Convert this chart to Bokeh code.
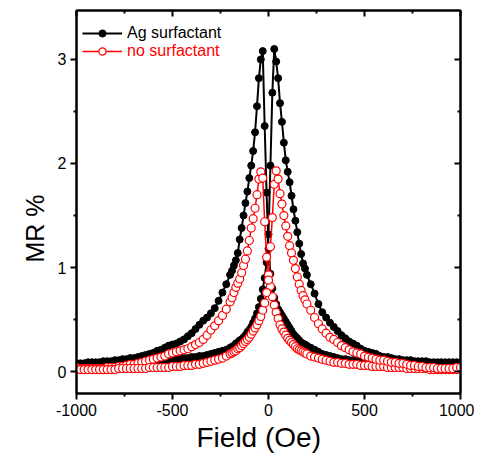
from bokeh.plotting import figure
from bokeh.models import (Range1d, FixedTicker, LinearAxis, Legend, LegendItem,
                          CustomJSTickFormatter, Title)
from bokeh.embed import file_html
from bokeh.resources import INLINE

# ---------------- data ----------------
FIELD = [
    -1000, -980, -960, -940, -920, -900, -880, -860, -840, -820,
    -800, -780, -760, -740, -720, -700, -680, -660, -640, -620,
    -600, -580, -560, -540, -520, -500, -480, -460, -440, -420,
    -400, -380, -360, -340, -320, -300, -280, -260, -240, -220, -200,
    -190, -180, -170, -160, -150, -140, -130, -120, -110, -100,
    -90, -80, -70, -60, -50, -40, -30, -20, -10, 0,
    10, 20, 30, 40, 50, 60, 70, 80, 90, 100,
    110, 120, 130, 140, 150, 160, 170, 180, 190,
    200, 220, 240, 260, 280, 300, 320, 340, 360, 380,
    400, 420, 440, 460, 480, 500, 520, 540, 560, 580,
    600, 620, 640, 660, 680, 700, 720, 740, 760, 780,
    800, 820, 840, 860, 880, 900, 920, 940, 960, 980, 1000,
]

# Ag surfactant, branch with peak at negative field
AG_DOWN = [
    0.08, 0.08, 0.08, 0.09, 0.09, 0.09, 0.09, 0.10, 0.10, 0.10,
    0.11, 0.11, 0.12, 0.12, 0.13, 0.13, 0.14, 0.15, 0.16, 0.17,
    0.18, 0.20, 0.21, 0.23, 0.25, 0.26, 0.27, 0.29, 0.31, 0.34,
    0.37, 0.41, 0.45, 0.49, 0.52, 0.56, 0.61, 0.68, 0.76, 0.84, 0.93,
    0.97, 1.02, 1.07, 1.14, 1.27, 1.38, 1.50, 1.62, 1.73, 1.86,
    1.98, 2.12, 2.30, 2.55, 2.82, 3.00, 3.08, 2.36, 1.72, 1.18,
    0.94, 0.80, 0.71, 0.65, 0.60, 0.57, 0.54, 0.51, 0.48, 0.45,
    0.42, 0.39, 0.36, 0.34, 0.32, 0.30, 0.28, 0.27, 0.26,
    0.25, 0.23, 0.21, 0.19, 0.17, 0.16, 0.15, 0.14, 0.13, 0.12,
    0.12, 0.11, 0.11, 0.10, 0.10, 0.10, 0.09, 0.09, 0.09, 0.09,
    0.09, 0.08, 0.08, 0.08, 0.08, 0.08, 0.08, 0.07, 0.07, 0.07,
    0.07, 0.07, 0.07, 0.06, 0.06, 0.06, 0.06, 0.06, 0.06, 0.06, 0.06,
]

# Ag surfactant, branch with peak at positive field
AG_UP = [
    0.06, 0.06, 0.06, 0.06, 0.06, 0.06, 0.07, 0.07, 0.07, 0.07,
    0.07, 0.07, 0.08, 0.08, 0.08, 0.08, 0.09, 0.09, 0.09, 0.09,
    0.10, 0.10, 0.10, 0.11, 0.11, 0.11, 0.12, 0.12, 0.13, 0.13,
    0.14, 0.14, 0.15, 0.15, 0.16, 0.17, 0.18, 0.19, 0.20, 0.21, 0.23,
    0.24, 0.25, 0.27, 0.28, 0.30, 0.31, 0.33, 0.35, 0.38, 0.40,
    0.43, 0.47, 0.51, 0.56, 0.62, 0.70, 0.79, 0.90, 1.05, 1.32,
    1.98, 2.68, 3.10, 2.98, 2.82, 2.58, 2.40, 2.20, 2.03, 1.92,
    1.82, 1.69, 1.56, 1.45, 1.34, 1.23, 1.13, 1.04, 0.99,
    0.93, 0.84, 0.75, 0.65, 0.57, 0.52, 0.47, 0.43, 0.39, 0.35,
    0.32, 0.29, 0.27, 0.25, 0.22, 0.20, 0.19, 0.18, 0.17, 0.15,
    0.14, 0.14, 0.13, 0.12, 0.12, 0.11, 0.11, 0.11, 0.10, 0.10,
    0.10, 0.10, 0.09, 0.09, 0.09, 0.09, 0.09, 0.09, 0.09, 0.09, 0.09,
]

# no surfactant, branch with peak at negative field
NO_DOWN = [
    0.04, 0.03, 0.03, 0.03, 0.03, 0.03, 0.03, 0.03, 0.04, 0.04,
    0.04, 0.05, 0.05, 0.06, 0.07, 0.07, 0.08, 0.09, 0.10, 0.11,
    0.12, 0.13, 0.14, 0.15, 0.17, 0.18, 0.19, 0.20, 0.21, 0.22,
    0.24, 0.26, 0.28, 0.31, 0.35, 0.40, 0.44, 0.49, 0.54, 0.60, 0.67,
    0.71, 0.76, 0.81, 0.85, 0.89, 0.95, 1.02, 1.08, 1.16, 1.26,
    1.38, 1.47, 1.57, 1.70, 1.85, 1.92, 1.86, 1.44, 1.10, 0.93,
    0.82, 0.72, 0.64, 0.57, 0.51, 0.45, 0.41, 0.38, 0.35, 0.32,
    0.30, 0.28, 0.26, 0.24, 0.22, 0.21, 0.20, 0.19, 0.18,
    0.17, 0.15, 0.14, 0.13, 0.12, 0.11, 0.10, 0.09, 0.09, 0.08,
    0.08, 0.07, 0.07, 0.07, 0.06, 0.06, 0.06, 0.05, 0.05, 0.05,
    0.05, 0.04, 0.04, 0.04, 0.04, 0.04, 0.03, 0.03, 0.03, 0.03,
    0.03, 0.03, 0.02, 0.02, 0.02, 0.02, 0.02, 0.02, 0.02, 0.02, 0.03,
]

# no surfactant, branch with peak at positive field
NO_UP = [
    0.02, 0.02, 0.02, 0.02, 0.02, 0.02, 0.02, 0.02, 0.02, 0.02,
    0.02, 0.03, 0.03, 0.03, 0.03, 0.03, 0.03, 0.03, 0.03, 0.04,
    0.04, 0.04, 0.04, 0.04, 0.04, 0.05, 0.05, 0.05, 0.06, 0.06,
    0.06, 0.07, 0.07, 0.08, 0.09, 0.10, 0.11, 0.12, 0.13, 0.15, 0.17,
    0.18, 0.19, 0.20, 0.22, 0.23, 0.25, 0.27, 0.29, 0.31, 0.33,
    0.36, 0.39, 0.42, 0.45, 0.49, 0.53, 0.59, 0.66, 0.76, 0.88,
    1.20, 1.48, 1.80, 1.93, 1.85, 1.71, 1.61, 1.50, 1.40, 1.30,
    1.21, 1.14, 1.07, 0.99, 0.91, 0.84, 0.78, 0.73, 0.69,
    0.65, 0.59, 0.52, 0.46, 0.41, 0.37, 0.33, 0.31, 0.28, 0.25,
    0.23, 0.21, 0.19, 0.18, 0.17, 0.15, 0.14, 0.13, 0.12, 0.11,
    0.11, 0.10, 0.09, 0.09, 0.08, 0.08, 0.07, 0.06, 0.06, 0.05,
    0.05, 0.04, 0.04, 0.04, 0.03, 0.03, 0.03, 0.03, 0.03, 0.04, 0.04,
]

X_TICKS = [-1000, -500, 0, 500, 1000]
X_MINOR = [-750, -250, 250, 750]
Y_TICKS = [0, 1, 2, 3]
Y_MINOR = [0.5, 1.5, 2.5]

SERIES_LABELS = ["Ag surfactant", "no surfactant"]
X_LABEL = "Field (Oe)"
Y_LABEL = "MR %"

FONT = "Liberation Sans"

# ---------------- figure ----------------
p = figure(width=474, height=455, output_backend="svg", toolbar_location=None,
           x_range=Range1d(-1000, 1000), y_range=Range1d(-0.21, 3.47),
           min_border_left=76, min_border_right=14, min_border_top=10,
           min_border_bottom=62)
p.grid.visible = False
p.outline_line_color = "black"
p.outline_line_width = 2
p.background_fill_color = "white"
p.border_fill_color = "white"

plain = CustomJSTickFormatter(code="return tick.toString()")


def style_axis(ax, ticks, minor, tick_in, tick_out, minor_in, minor_out):
    ax.ticker = FixedTicker(ticks=ticks, minor_ticks=minor)
    ax.axis_line_width = 2
    ax.axis_line_color = "black"
    ax.major_tick_line_width = 2
    ax.minor_tick_line_width = 2
    ax.major_tick_line_color = "black"
    ax.minor_tick_line_color = "black"
    ax.major_tick_in = tick_in
    ax.major_tick_out = tick_out
    ax.minor_tick_in = minor_in
    ax.minor_tick_out = minor_out
    ax.major_label_text_font = FONT
    ax.major_label_text_font_size = "16px"
    ax.major_label_text_color = "black"


xa = p.xaxis[0]
style_axis(xa, X_TICKS, X_MINOR, 0, 6, 0, 3)
xa.formatter = plain
xa.major_label_standoff = 4

ya = p.yaxis[0]
style_axis(ya, Y_TICKS, Y_MINOR, 0, 6, 0, 3)
ya.formatter = plain
ya.major_label_standoff = 4

empty = CustomJSTickFormatter(code="return ''")
top = LinearAxis(formatter=empty)
style_axis(top, X_TICKS, X_MINOR, 6, 0, 3, 0)
top.major_label_standoff = 0
top.major_label_text_font_size = "0px"
p.add_layout(top, "above")
right = LinearAxis(formatter=empty)
style_axis(right, Y_TICKS, Y_MINOR, 6, 0, 3, 0)
right.major_label_standoff = 0
right.major_label_text_font_size = "0px"
p.add_layout(right, "right")

# axis titles, placed off-centre as in the reference
p.add_layout(Title(text=X_LABEL, align="left", offset=120, standoff=4,
                   vertical_align="middle", text_font=FONT, text_font_size="28px",
                   text_font_style="normal", text_color="black"), "below")
p.add_layout(Title(text=Y_LABEL, align="left", offset=131, standoff=10,
                   vertical_align="middle", text_font=FONT, text_font_size="25px",
                   text_font_style="normal", text_color="black"), "left")

# ---------------- glyphs ----------------
BLACK = "#000000"
RED = "#ff0000"

ag_l1 = p.line(FIELD, AG_DOWN, line_color=BLACK, line_width=2)
ag_l2 = p.line(FIELD, AG_UP, line_color=BLACK, line_width=2)
ag_s1 = p.scatter(FIELD, AG_DOWN, marker="circle", size=7, fill_color=BLACK, line_color=BLACK)
ag_s2 = p.scatter(FIELD, AG_UP, marker="circle", size=7, fill_color=BLACK, line_color=BLACK)

no_l1 = p.line(FIELD, NO_DOWN, line_color=RED, line_width=1.5)
no_l2 = p.line(FIELD, NO_UP, line_color=RED, line_width=1.5)
no_s1 = p.scatter(FIELD, NO_DOWN, marker="circle", size=8, fill_color="white",
                  line_color=RED, line_width=1.2)
no_s2 = p.scatter(FIELD, NO_UP, marker="circle", size=8, fill_color="white",
                  line_color=RED, line_width=1.2)

# ---------------- legends ----------------
def make_legend(label, renderers, color, loc):
    lg = Legend(items=[LegendItem(label=label, renderers=renderers)], location=loc)
    lg.border_line_color = None
    lg.background_fill_alpha = 0
    lg.padding = 0
    lg.margin = 0
    lg.glyph_width = 40
    lg.glyph_height = 18
    lg.label_height = 18
    lg.label_standoff = 5
    lg.label_text_font = FONT
    lg.label_text_font_size = "16px"
    lg.label_text_color = color
    return lg


p.add_layout(make_legend(SERIES_LABELS[0], [ag_l1, ag_s1], BLACK, (6, 351)))
p.add_layout(make_legend(SERIES_LABELS[1], [no_l1, no_s1], RED, (6, 333)))

open("out.html", "w").write(file_html(p, INLINE))
